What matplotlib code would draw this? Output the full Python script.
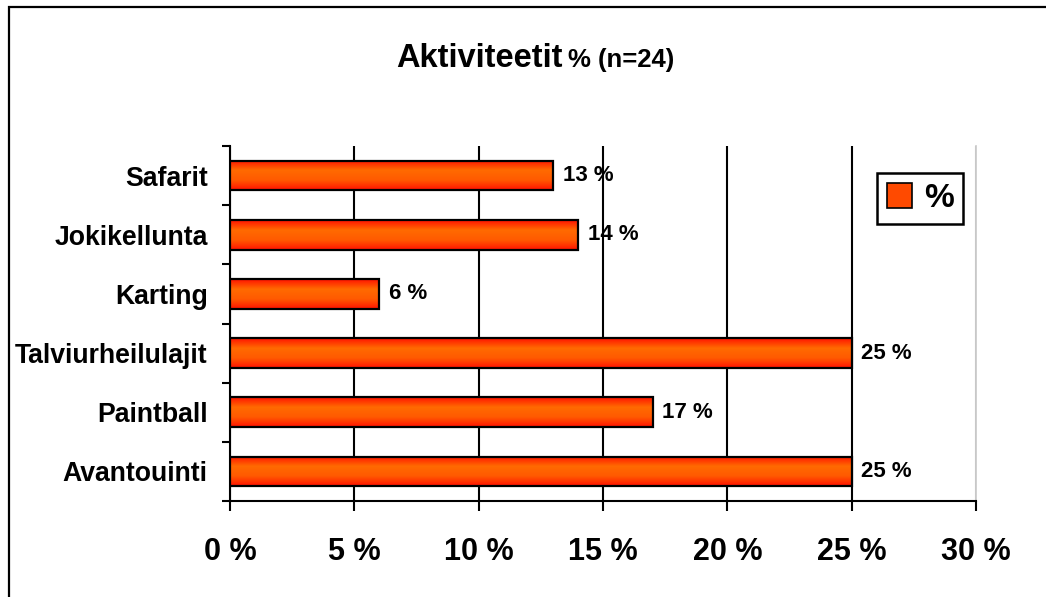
import numpy as np
import matplotlib
matplotlib.use("Agg")
import matplotlib.pyplot as plt
from matplotlib.colors import LinearSegmentedColormap
from matplotlib.patches import Rectangle, Patch
from matplotlib.ticker import FixedLocator

plt.rcParams["font.family"] = ["Liberation Sans", "DejaVu Sans"]
plt.rcParams["font.weight"] = "bold"

# data (bottom to top)
categories = ["Avantouinti", "Paintball", "Talviurheilulajit", "Karting", "Jokikellunta", "Safarit"]
values = [25, 17, 25, 6, 14, 13]
x_ticks = [0, 5, 10, 15, 20, 25, 30]
x_tick_labels = ["0 %", "5 %", "10 %", "15 %", "20 %", "25 %", "30 %"]

W, H = 1046, 597
fig = plt.figure(figsize=(W / 100, H / 100), dpi=100)
ax = fig.add_axes([230 / W, (H - 501) / H, 746 / W, 355 / H])

# red-orange-red vertical gradient for the bars
cmap = LinearSegmentedColormap.from_list("bar", ["#FF1400", "#FF6A00", "#FF5A00", "#FF1400"])
grad = np.linspace(0, 1, 64).reshape(-1, 1)
bh = 0.5
for i, v in enumerate(values):
    ax.imshow(grad, cmap=cmap, aspect="auto", extent=[0, v, i - bh / 2, i + bh / 2],
              zorder=3, interpolation="bilinear")
ax.barh(range(len(values)), values, height=bh, facecolor="none", edgecolor="black",
        linewidth=1.6, zorder=4)

for i, v in enumerate(values):
    ax.annotate(f"{v} %", (v, i), xytext=(7, 0), textcoords="offset points",
                va="center", ha="left", fontsize=16, fontweight="bold", zorder=5)

ax.set_xlim(0, 30)
ax.set_ylim(-0.5, len(values) - 0.5)

ax.set_xticks(x_ticks)
ax.set_xticklabels(x_tick_labels, fontsize=22, fontweight="bold")
ax.tick_params(axis="x", direction="out", length=7, width=1.5, pad=19)

ax.set_yticks(range(len(categories)))
ax.set_yticklabels(categories, fontsize=19.2, fontweight="bold")
ax.yaxis.set_minor_locator(FixedLocator(np.arange(-0.5, len(categories), 1.0)))
ax.tick_params(axis="y", which="major", length=0, pad=16)
ax.tick_params(axis="y", which="minor", direction="out", length=6, width=1.5)

ax.grid(axis="x", color="black", linewidth=1.5, zorder=1)
ax.set_axisbelow(True)
ax.xaxis.get_gridlines()[-1].set_color("#C8C8C8")

ax.spines["top"].set_visible(False)
ax.spines["right"].set_color("#C8C8C8")
ax.spines["right"].set_linewidth(1.2)
ax.spines["left"].set_linewidth(1.5)
ax.spines["bottom"].set_linewidth(1.5)

leg = ax.legend(handles=[Patch(facecolor="#FF4A00", edgecolor="black", linewidth=1.2, label="%")],
                loc="upper left", bbox_to_anchor=(877 / W, 1 - 173 / H), bbox_transform=fig.transFigure,
                prop={"weight": "bold", "size": 24}, frameon=True, fancybox=False,
                framealpha=1, edgecolor="black", handlelength=0.75, handleheight=0.75,
                handletextpad=0.35, borderpad=0.3, borderaxespad=0)
leg.get_frame().set_linewidth(1.8)

# title
ty = 1 - 67 / H
fig.text(563 / W, ty, "Aktiviteetit", ha="right", va="baseline", fontsize=23.5, fontweight="bold")
fig.text(568 / W, ty, "% (n=24)", ha="left", va="baseline", fontsize=18.5, fontweight="bold")

# outer chart frame
fig.add_artist(Rectangle((9 / W, -0.05), 1.1, 1 - 7 / H + 0.05, transform=fig.transFigure,
                         fill=False, edgecolor="black", linewidth=1.6, clip_on=False))

fig.savefig("out.png", dpi=100)
